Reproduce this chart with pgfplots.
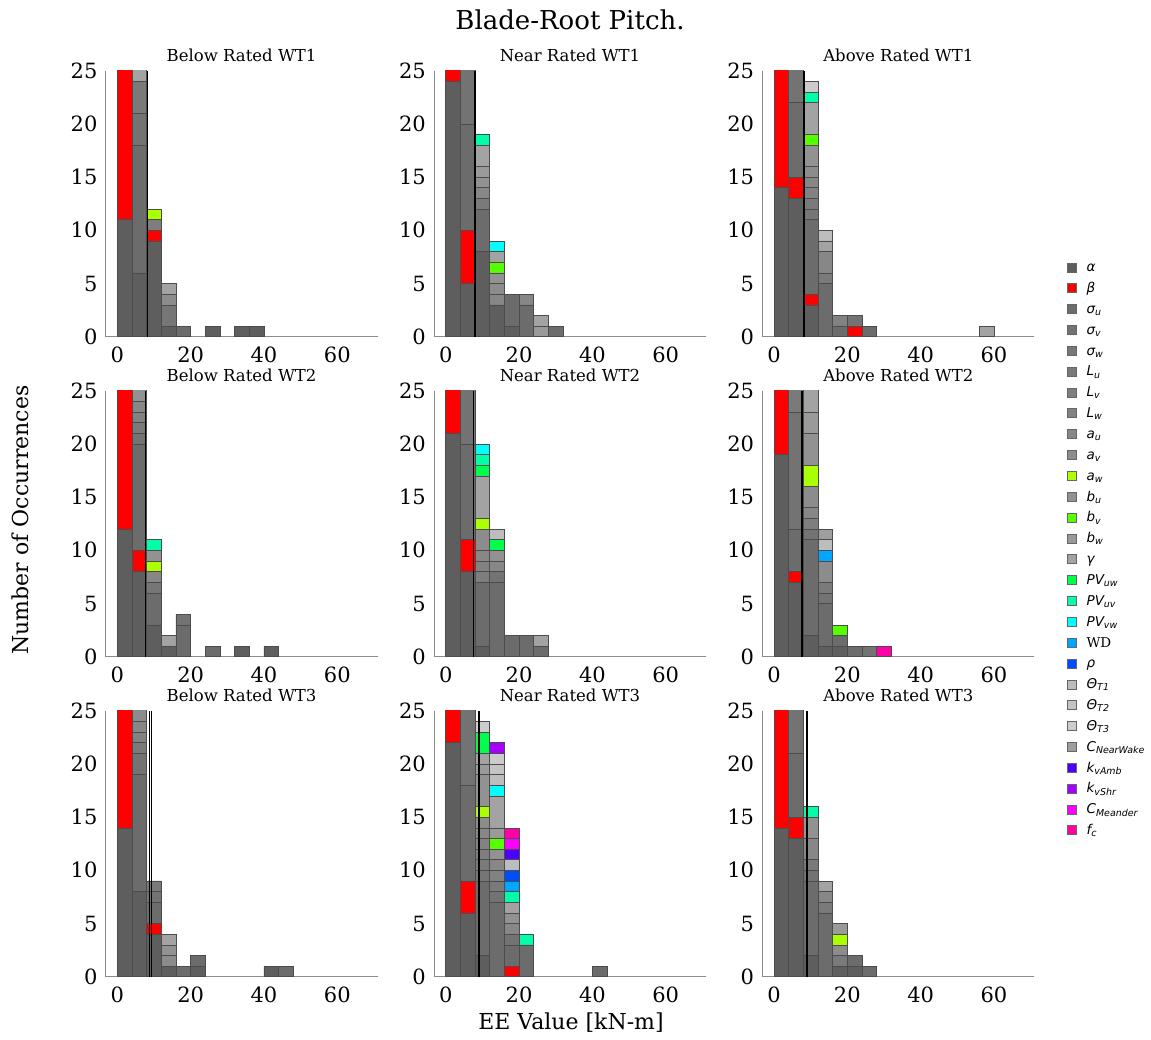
\documentclass[border=0pt]{standalone}
\usepackage{fontspec}
\setmainfont{DejaVu Serif}
\newfontfamily\legfont{DejaVu Sans}
\usepackage{pgfplots}
\usepackage{pgfplotstable}
\pgfplotsset{compat=1.18}

% one colour per parameter (grey = not significant)
\definecolor{c0}{HTML}{5E5E5E}
\definecolor{c1}{HTML}{FF0000}
\definecolor{c2}{HTML}{6C6C6C}
\definecolor{c3}{HTML}{737373}
\definecolor{c4}{HTML}{767676}
\definecolor{c5}{HTML}{7A7A7A}
\definecolor{c6}{HTML}{7E7E7E}
\definecolor{c7}{HTML}{828282}
\definecolor{c8}{HTML}{878787}
\definecolor{c9}{HTML}{8C8C8C}
\definecolor{c10}{HTML}{AAFF00}
\definecolor{c11}{HTML}{929292}
\definecolor{c12}{HTML}{55FF00}
\definecolor{c13}{HTML}{9A9A9A}
\definecolor{c14}{HTML}{A3A3A3}
\definecolor{c15}{HTML}{00FF4C}
\definecolor{c16}{HTML}{00FFA6}
\definecolor{c17}{HTML}{00FFFF}
\definecolor{c18}{HTML}{00A6FF}
\definecolor{c19}{HTML}{004CFF}
\definecolor{c20}{HTML}{BDBDBD}
\definecolor{c21}{HTML}{C4C4C4}
\definecolor{c22}{HTML}{CCCCCC}
\definecolor{c23}{HTML}{9E9E9E}
\definecolor{c24}{HTML}{4C00FF}
\definecolor{c25}{HTML}{A600FF}
\definecolor{c26}{HTML}{FF00FF}
\definecolor{c27}{HTML}{FF00A6}

% counts per 4 kN-m bin (x = bin centre), one column per parameter
\pgfplotstableread{
x  c0 c1 c2 c3 c4 c5 c6 c9 c10 c14
2  11 16 0  0  0  0  0  0  0   0
6  6  0  12 3  0  3  0  0  0   2
10 9  1  0  0  0  0  1  0  1   0
14 1  0  0  0  2  0  0  1  0   1
18 0  0  1  0  0  0  0  0  0   0
26 1  0  0  0  0  0  0  0  0   0
34 1  0  0  0  0  0  0  0  0   0
38 1  0  0  0  0  0  0  0  0   0
}\tA
\pgfplotstableread{
x  c0 c1 c2 c3 c5 c8 c9 c11 c12 c13 c14 c16 c17
2  24 2  0  0  0  0  0  0   0   0   0   0   0
6  5  5  10 6  0  0  0  0   0   0   0   0   0
10 8  0  4  0  1  1  0  1   0   1   2   1   0
14 3  0  0  0  0  1  1  1   1   0   1   0   1
18 1  0  3  0  0  0  0  0   0   0   0   0   0
22 0  0  3  0  0  1  0  0   0   0   0   0   0
26 0  0  0  0  0  0  0  0   0   1   1   0   0
30 0  0  1  0  0  0  0  0   0   0   0   0   0
}\tB
\pgfplotstableread{
x  c0 c1 c2 c3 c4 c5 c7 c8 c9 c11 c12 c14 c16 c20 c22
2  14 13 0  0  0  0  0  0  0  0   0   0   0   0   0
6  13 2  7  4  0  0  0  0  0  0   0   0   0   0   0
10 3  1  7  0  1  1  1  1  1  2   1   3   1   0   1
14 0  0  5  0  0  1  0  2  0  0   0   1   0   1   0
18 0  0  1  0  0  0  1  0  0  0   0   0   0   0   0
22 0  1  0  1  0  0  0  0  0  0   0   0   0   0   0
26 0  0  1  0  0  0  0  0  0  0   0   0   0   0   0
58 0  0  0  0  0  0  0  0  0  0   0   1   0   0   0
}\tC
\pgfplotstableread{
x  c0 c1 c2 c3 c4 c5 c7 c8 c10 c11 c14 c16
2  12 15 0  0  0  0  0  0  0   0   0   0
6  8  2  10 1  0  1  1  1  0   2   0   0
10 3  0  3  0  1  0  0  1  1   1   0   1
14 1  0  0  0  0  0  0  0  0   0   1   0
18 0  0  3  1  0  0  0  0  0   0   0   0
26 0  0  1  0  0  0  0  0  0   0   0   0
34 1  0  0  0  0  0  0  0  0   0   0   0
42 1  0  0  0  0  0  0  0  0   0   0   0
}\tD
\pgfplotstableread{
x  c0 c1 c2 c3 c6 c7 c8 c9 c10 c11 c14 c15 c16 c17 c20
2  21 6  0  0  0  0  0  0  0   0   0   0   0   0   0
6  8  3  9  6  0  0  0  0  0   0   0   0   0   0   0
10 1  0  6  0  1  1  1  2  1   0   4   1   1   1   0
14 0  0  7  1  0  0  1  0  0   1   0   1   0   0   1
18 0  0  2  0  0  0  0  0  0   0   0   0   0   0   0
22 0  0  2  0  0  0  0  0  0   0   0   0   0   0   0
26 0  0  1  0  0  0  0  0  0   0   1   0   0   0   0
}\tE
\pgfplotstableread{
x  c0 c1 c2 c3 c5 c6 c8 c9 c10 c11 c12 c13 c14 c18 c20 c23 c27
2  19 8  0  0  0  0  0  0  0   0   0   0   0   0   0   0   0
6  7  1  4  11 3  0  0  0  0   0   0   0   0   0   0   0   0
10 2  0  9  1  0  1  1  2  2   3   0   2   3   0   0   0   0
14 1  0  4  1  1  0  0  2  0   0   0   0   0   1   1   1   0
18 1  0  1  0  0  0  0  0  0   0   1   0   0   0   0   0   0
22 0  0  1  0  0  0  0  0  0   0   0   0   0   0   0   0   0
26 0  0  0  1  0  0  0  0  0   0   0   0   0   0   0   0   0
30 0  0  0  0  0  0  0  0  0   0   0   0   0   0   0   0   1
}\tF
\pgfplotstableread{
x  c0 c1 c2 c3 c5 c7 c8 c9 c11 c14
2  14 13 0  0  0  0  0  0  0   0
6  8  0  11 2  1  1  1  2  0   0
10 4  1  2  1  1  0  0  0  0   0
14 1  0  0  0  0  0  0  1  1   1
18 0  0  1  0  0  0  0  0  0   0
22 1  0  1  0  0  0  0  0  0   0
42 1  0  0  0  0  0  0  0  0   0
46 0  0  1  0  0  0  0  0  0   0
}\tG
\pgfplotstableread{
x  c0 c1 c2 c3 c4 c5 c6 c7 c8 c9 c10 c11 c12 c13 c14 c15 c16 c17 c18 c19 c20 c21 c22 c24 c25 c26 c27
2  22 5  0  0  0  0  0  0  0  0  0   0   0   0   0   0   0   0   0   0   0   0   0   0   0   0   0
6  6  3  9  8  0  0  0  0  0  0  0   0   0   0   0   0   0   0   0   0   0   0   0   0   0   0   0
10 2  0  7  0  1  1  1  1  1  1  1   3   0   1   1   2   0   0   0   0   0   0   1   0   0   0   0
14 0  0  7  1  0  1  0  1  1  0  0   1   1   1   3   0   0   1   0   0   1   1   1   0   1   0   0
18 0  1  2  1  0  0  0  0  1  0  0   1   0   0   1   0   1   0   1   1   1   0   0   1   0   1   1
22 0  0  3  0  0  0  0  0  0  0  0   0   0   0   0   0   1   0   0   0   0   0   0   0   0   0   0
42 0  0  1  0  0  0  0  0  0  0  0   0   0   0   0   0   0   0   0   0   0   0   0   0   0   0   0
}\tH
\pgfplotstableread{
x  c0 c1 c2 c3 c5 c8 c9 c10 c11 c13 c14 c16
2  14 13 0  0  0  0  0  0   0   0   0   0
6  13 2  6  5  0  0  0  0   0   0   0   0
10 2  0  7  1  1  2  0  0   2   0   0   1
14 0  0  6  0  1  1  0  0   0   0   1   0
18 1  0  0  0  1  0  1  1   0   1   0   0
22 1  0  1  0  0  0  0  0   0   0   0   0
26 0  0  1  0  0  0  0  0   0   0   0   0
}\tI

\pgfplotsset{
  frame/.style={scale only axis, width=272pt, height=266pt,
    xmin=-3.2, xmax=71, ymin=0, ymax=25, anchor=south west},
  bars/.style={frame, ybar stacked, bar width=4,
    axis x line*=bottom, axis y line*=left,
    axis line style={black!45, line width=0.9pt},
    xtick={0,20,40,60}, ytick={0,5,...,25},
    major tick length=0pt,
    tick label style={font=\fontsize{21}{21}\selectfont},
    xticklabel style={anchor=north, inner sep=0pt, yshift=-10pt},
    yticklabel style={anchor=east, inner sep=0pt, xshift=-8pt},
    /pgf/number format/assume math mode=true,
    title style={font=\fontsize{16.5}{16.5}\selectfont, yshift=-1pt},
    every axis plot/.append style={draw=black!70, line width=0.5pt}},
  mean/.style={black, line width=1.6pt},
}

\newcommand\panel[5]{%
  \begin{axis}[bars, at={#1}, title={#2}]
    \pgfplotsinvokeforeach{#4}{\addplot[fill=##1] table[x=x,y=##1]{#3};}
  \end{axis}
  \begin{axis}[frame, hide axis, at={#1}]
    #5
  \end{axis}}

\newcommand\leg[2]{\addlegendimage{fill=#1}\addlegendentry{#2}}
\newcommand\sub[1]{\textsubscript{#1}}

\begin{document}
\begin{tikzpicture}
\path[use as bounding box] (0,0) rectangle (1151pt,-1039pt);

\panel{(105.6pt,-336.7pt)}{Below Rated WT1}{\tA}{c0,c1,c2,c3,c4,c5,c6,c9,c10,c14}
  {\addplot[mean] coordinates {(8.2,0) (8.2,25)};}
\panel{(434pt,-336.7pt)}{Near Rated WT1}{\tB}{c0,c1,c2,c3,c5,c8,c9,c11,c12,c13,c14,c16,c17}
  {\addplot[mean] coordinates {(8.0,0) (8.0,25)};}
\panel{(762.3pt,-336.7pt)}{Above Rated WT1}{\tC}{c0,c1,c2,c3,c4,c5,c7,c8,c9,c11,c12,c14,c16,c20,c22}
  {\addplot[mean] coordinates {(8.2,0) (8.2,25)};}

\panel{(105.6pt,-656.7pt)}{Below Rated WT2}{\tD}{c0,c1,c2,c3,c4,c5,c7,c8,c10,c11,c14,c16}
  {\addplot[mean] coordinates {(7.7,0) (7.7,25)};}
\panel{(434pt,-656.7pt)}{Near Rated WT2}{\tE}{c0,c1,c2,c3,c6,c7,c8,c9,c10,c11,c14,c15,c16,c17,c20}
  {\addplot[mean] coordinates {(7.6,0) (7.6,25)};}
\panel{(762.3pt,-656.7pt)}{Above Rated WT2}{\tF}{c0,c1,c2,c3,c5,c6,c8,c9,c10,c11,c12,c13,c14,c18,c20,c23,c27}
  {\addplot[mean] coordinates {(7.6,0) (7.6,25)};}

\panel{(105.6pt,-976.7pt)}{Below Rated WT3}{\tG}{c0,c1,c2,c3,c5,c7,c8,c9,c11,c14}
  {\addplot[black, line width=1pt] coordinates {(8.8,0) (8.8,25)};
   \addplot[black, line width=1pt] coordinates {(9.25,0) (9.25,25)};}
\panel{(434pt,-976.7pt)}{Near Rated WT3}{\tH}{c0,c1,c2,c3,c4,c5,c6,c7,c8,c9,c10,c11,c12,c13,c14,c15,c16,c17,c18,c19,c20,c21,c22,c24,c25,c26,c27}
  {\addplot[mean] coordinates {(9.0,0) (9.0,25)};}
\panel{(762.3pt,-976.7pt)}{Above Rated WT3}{\tI}{c0,c1,c2,c3,c5,c8,c9,c10,c11,c13,c14,c16}
  {\addplot[mean] coordinates {(9.0,0) (9.0,25)};}

% legend
\begin{axis}[hide axis, scale only axis, width=10pt, height=10pt,
  xmin=0, xmax=1, ymin=0, ymax=1, at={(1067pt,-256.6pt)}, anchor=north west,
  legend image code/.code={\draw[#1, draw=black!60, line width=0.4pt] (0pt,-4.5pt) rectangle (9pt,4.5pt);},
  legend style={at={(0,1)}, anchor=north west, draw=none, fill=none,
    inner sep=0pt, row sep=0pt, legend cell align=left,
    font=\legfont\itshape\fontsize{13.5}{13.5}\selectfont,
    nodes={inner ysep=0pt, inner xsep=10pt, text height=14.9pt, text depth=5.95pt}}]
\leg{c0}{α}
\leg{c1}{β}
\leg{c2}{σ\sub{u}}
\leg{c3}{σ\sub{v}}
\leg{c4}{σ\sub{w}}
\leg{c5}{L\sub{u}}
\leg{c6}{L\sub{v}}
\leg{c7}{L\sub{w}}
\leg{c8}{a\sub{u}}
\leg{c9}{a\sub{v}}
\leg{c10}{a\sub{w}}
\leg{c11}{b\sub{u}}
\leg{c12}{b\sub{v}}
\leg{c13}{b\sub{w}}
\leg{c14}{γ}
\leg{c15}{PV\sub{uw}}
\leg{c16}{PV\sub{uv}}
\leg{c17}{PV\sub{vw}}
\leg{c18}{{\rmfamily\upshape WD}}
\leg{c19}{ρ}
\leg{c20}{Θ\sub{T1}}
\leg{c21}{Θ\sub{T2}}
\leg{c22}{Θ\sub{T3}}
\leg{c23}{C\sub{NearWake}}
\leg{c24}{k\sub{vAmb}}
\leg{c25}{k\sub{vShr}}
\leg{c26}{C\sub{Meander}}
\leg{c27}{f\sub{c}}
\end{axis}

\node[font=\fontsize{26}{26}\selectfont] at (570pt,-20pt) {Blade-Root Pitch.};
\node[rotate=90, font=\fontsize{22}{22}\selectfont] at (20pt,-520pt) {Number of Occurrences};
\node[font=\fontsize{22}{22}\selectfont] at (571pt,-1023pt) {EE Value [kN-m]};
\end{tikzpicture}
\end{document}
